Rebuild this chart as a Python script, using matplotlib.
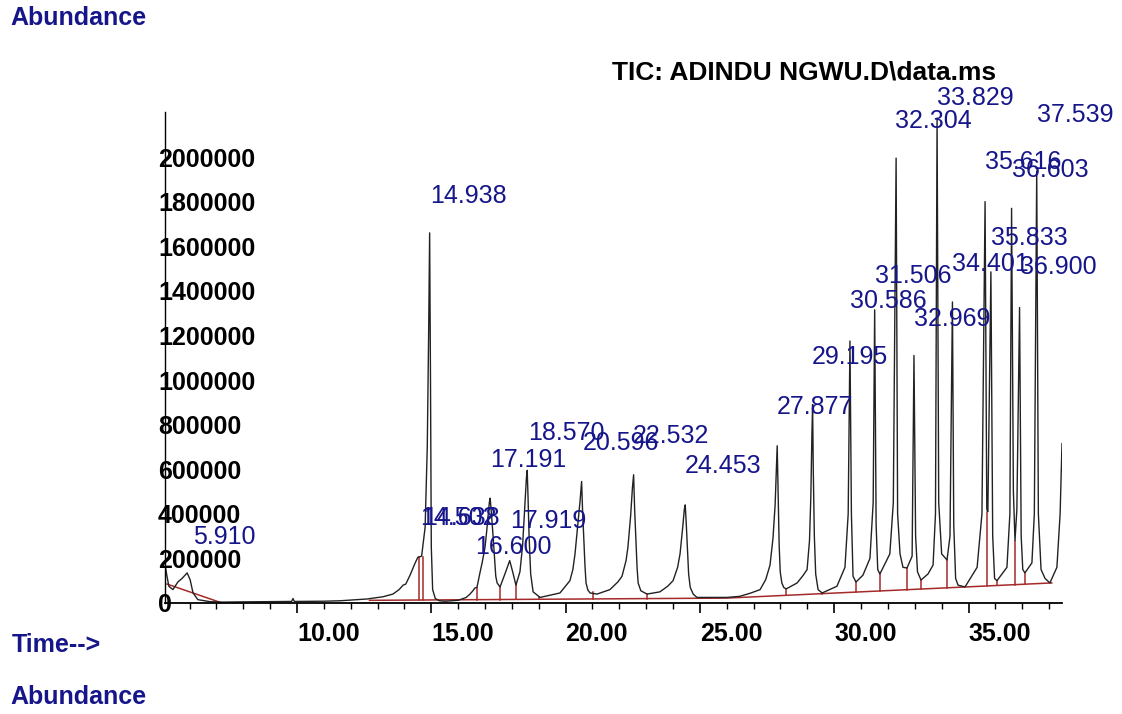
import matplotlib
matplotlib.use('Agg')
import matplotlib.pyplot as plt
from matplotlib.ticker import MultipleLocator, FuncFormatter

plt.rcParams['font.family'] = ['Liberation Sans', 'DejaVu Sans']

# ---- TIC trace: (time min, abundance in thousands) ----
trace_early = [(5.09, 170), (5.16, 120), (5.23, 75), (5.38, 60), (5.57, 95), (5.72, 110),
               (5.91, 135), (6.02, 105), (6.13, 45), (6.31, 15), (6.76, 6), (7.21, 4),
               (7.88, 5), (9.0, 6), (9.8, 7), (9.85, 20), (9.9, 7), (11.0, 8), (11.6, 10),
               (12.61, 18), (13.2, 28), (13.57, 40), (13.8, 60), (13.95, 80), (14.05, 85),
               (14.21, 125), (14.40, 180), (14.50, 205), (14.64, 210), (14.77, 340),
               (14.85, 700), (14.90, 1200), (14.938, 1660), (14.97, 1000), (15.0, 250),
               (15.05, 60), (15.15, 20), (15.3, 10), (15.51, 8), (16.0, 12), (16.3, 25),
               (16.44, 40), (16.55, 55), (16.62, 67), (16.70, 70), (16.81, 135),
               (16.90, 185), (17.0, 250), (17.06, 320), (17.16, 450), (17.191, 470),
               (17.22, 430), (17.30, 300), (17.40, 120), (17.45, 90), (17.56, 72),
               (17.74, 130), (17.919, 190), (18.04, 135), (18.15, 80), (18.30, 140),
               (18.40, 260), (18.50, 470), (18.54, 560), (18.570, 595), (18.60, 480),
               (18.64, 300), (18.70, 130), (18.79, 50), (19.05, 25)]
trace_mid = [(19.79, 45), (20.16, 100), (20.27, 150), (20.35, 220), (20.46, 360),
             (20.54, 460), (20.596, 545), (20.63, 420), (20.68, 280), (20.72, 170),
             (20.76, 90), (20.83, 58), (20.91, 45), (21.17, 40), (21.65, 60), (21.95, 95),
             (22.10, 120), (22.25, 190), (22.32, 250), (22.42, 390), (22.49, 520),
             (22.532, 575), (22.57, 420), (22.62, 280), (22.66, 160), (22.70, 90),
             (22.80, 55), (23.03, 40), (23.51, 50), (23.80, 75), (24.00, 100),
             (24.17, 160), (24.26, 220), (24.36, 340), (24.42, 420), (24.453, 440),
             (24.49, 360), (24.54, 230), (24.58, 130), (24.64, 70), (24.75, 40),
             (24.89, 25), (26.01, 25), (26.49, 30), (26.90, 45), (27.24, 60),
             (27.45, 105), (27.61, 170), (27.72, 290), (27.80, 440), (27.85, 620),
             (27.877, 705), (27.91, 500), (27.95, 260), (27.99, 140), (28.05, 90),
             (28.12, 70), (28.21, 63), (28.62, 90), (28.85, 125), (28.99, 150),
             (29.08, 280), (29.13, 480), (29.17, 760), (29.195, 890), (29.22, 600),
             (29.26, 300), (29.31, 130), (29.40, 60), (29.55, 45)]
trace_late = [(30.10, 75), (30.40, 160), (30.52, 400), (30.586, 1175), (30.64, 400),
              (30.70, 120), (30.81, 94), (31.07, 125), (31.33, 200), (31.45, 450),
              (31.506, 1315), (31.56, 350), (31.62, 150), (31.70, 130), (32.07, 220),
              (32.20, 450), (32.304, 1995), (32.36, 400), (32.45, 220), (32.56, 160),
              (32.71, 157), (32.90, 210), (32.969, 1110), (33.03, 300), (33.10, 140),
              (33.23, 103), (33.49, 130), (33.68, 170), (33.77, 400), (33.829, 2175),
              (33.89, 450), (34.00, 220), (34.20, 193), (34.31, 300), (34.401, 1350),
              (34.45, 350), (34.52, 110), (34.61, 80), (34.87, 72), (35.32, 160),
              (35.50, 400), (35.616, 1800), (35.68, 420), (35.72, 410), (35.833, 1485),
              (35.90, 300), (35.97, 110), (36.06, 100), (36.43, 160), (36.54, 400),
              (36.603, 1770), (36.67, 500), (36.73, 280), (36.80, 420), (36.900, 1325),
              (36.96, 300), (37.02, 150), (37.10, 135), (37.36, 180), (37.45, 400),
              (37.539, 1935), (37.60, 400), (37.70, 150), (37.85, 110), (38.03, 90),
              (38.29, 160), (38.41, 400), (38.48, 715)]

# integration baselines (red)
base1_min = [5.16, 7.21]
base1_kabund = [85, 0]
base2_min = [12.7, 26.0, 38.1]
base2_kabund = [12, 22, 90]

# drop lines at peak boundaries
drop_min = [14.54, 14.69, 16.70, 17.56, 18.15, 19.01, 21.02, 23.03, 28.21, 29.55,
            30.81, 31.70, 32.71, 33.23, 34.20, 35.69, 36.06, 36.73, 37.10]
drop_kabund = [206, 206, 67, 72, 80, 27, 50, 40, 63, 45,
               94, 130, 157, 103, 193, 410, 100, 280, 135]

# peak labels
peak_rt = [5.910, 14.938, 14.502, 14.638, 16.600, 17.191, 17.919, 18.570, 20.596,
           22.532, 24.453, 27.877, 29.195, 30.586, 31.506, 32.304, 32.969, 33.829,
           34.401, 35.616, 35.833, 36.603, 36.900, 37.539]
label_x = [6.13, 14.95, 14.58, 14.69, 16.63, 17.19, 17.93, 18.60, 20.65,
           22.51, 24.45, 27.87, 29.17, 30.59, 31.52, 32.26, 32.97, 33.83,
           34.39, 35.61, 35.84, 36.62, 36.92, 37.55]
label_y = [296, 1825, 381, 381, 251, 641, 368, 762, 717,
           749, 614, 879, 1103, 1354, 1466, 2161, 1274, 2265,
           1520, 1978, 1637, 1942, 1507, 2188]

navy = '#16168a'
red = '#a52a2a'

trace = trace_early + trace_mid + trace_late
trace_t = [p[0] for p in trace]
trace_v = [p[1] * 1000 for p in trace]

fig = plt.figure(figsize=(11.22, 7.14), dpi=100)
ax = fig.add_axes([165 / 1122, 111 / 714, 897 / 1122, 491 / 714])

def base_at(t):
    # baseline under a drop line (linear between the baseline points)
    if t < base2_min[0]:
        return 0
    for i in range(len(base2_min) - 1):
        if base2_min[i] <= t <= base2_min[i + 1]:
            f = (t - base2_min[i]) / (base2_min[i + 1] - base2_min[i])
            return base2_kabund[i] + f * (base2_kabund[i + 1] - base2_kabund[i])
    return base2_kabund[-1]

ax.plot(base1_min, [v * 1000 for v in base1_kabund], color=red, lw=1.1)
ax.plot(base2_min, [v * 1000 for v in base2_kabund], color=red, lw=1.1)
for t, v in zip(drop_min, drop_kabund):
    ax.plot([t, t], [base_at(t) * 1000, v * 1000], color=red, lw=1.1)

ax.plot(trace_t, trace_v, color='#222222', lw=1.0)

for rt, lx, ly in zip(peak_rt, label_x, label_y):
    ax.text(lx, ly * 1000, '%.3f' % rt, color=navy, fontsize=18,
            ha='left', va='center')

ax.set_xlim(5.086, 38.48)
ax.set_ylim(0, 2202000)
for s in ['top', 'right']:
    ax.spines[s].set_visible(False)
ax.spines['left'].set_linewidth(1.0)
ax.spines['bottom'].set_linewidth(1.3)

ax.xaxis.set_major_locator(MultipleLocator(5))
ax.xaxis.set_minor_locator(MultipleLocator(1))
ax.xaxis.set_major_formatter(FuncFormatter(lambda v, p: '%.2f' % v))
ax.tick_params(axis='x', which='major', length=7, width=1.2, pad=7,
               labelsize=18)
ax.tick_params(axis='x', which='minor', length=4, width=1.0)
for lb in ax.get_xticklabels():
    lb.set_horizontalalignment('left')
    lb.set_fontweight('bold')

ax.set_yticks(range(0, 2000001, 200000))
ax.yaxis.set_major_formatter(FuncFormatter(lambda v, p: '%d' % v))
ax.tick_params(axis='y', which='major', length=0, pad=5, labelsize=18)
for lb in ax.get_yticklabels():
    lb.set_horizontalalignment('left')
    lb.set_fontweight('bold')

fig.text(10 / 1122, 1 - 18 / 714, 'Abundance', color=navy, fontsize=18,
         fontweight='bold', ha='left', va='center')
fig.text(612 / 1122, 1 - 73 / 714, 'TIC: ADINDU NGWU.D\\data.ms', color='black',
         fontsize=19, fontweight='bold', ha='left', va='center')
fig.text(12 / 1122, 1 - 645 / 714, 'Time-->', color=navy, fontsize=18,
         fontweight='bold', ha='left', va='center')
fig.text(10 / 1122, 1 - 697 / 714, 'Abundance', color=navy, fontsize=18,
         fontweight='bold', ha='left', va='center')

fig.savefig('out.png', dpi=100)
